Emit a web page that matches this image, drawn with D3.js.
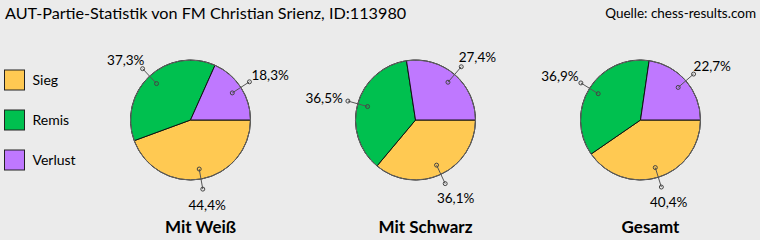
<!DOCTYPE html>
<head>
  <meta charset="utf-8">
  <script src="https://d3js.org/d3.v7.min.js"></script>
  <style>
    body { margin: 0; background: #ebebeb; }
    svg { display: block; }
    text { font-family: Lato, "Open Sans", sans-serif; fill: #000; }
  </style>
</head>
<body>
  <svg></svg>
  <script>
    var width = 760;
    var height = 240;

    // data
    var categories = ['Sieg', 'Remis', 'Verlust'];
    var colors = ['#ffc952', '#00c04f', '#bf78ff'];
    var panels = ['Mit Weiß', 'Mit Schwarz', 'Gesamt'];
    var mitWeiss = [44.4, 37.3, 18.3];
    var mitSchwarz = [36.1, 36.5, 27.4];
    var gesamt = [40.4, 36.9, 22.7];
    var series = [mitWeiss, mitSchwarz, gesamt];

    var svg = d3.select('svg')
      .attr('width', width)
      .attr('height', height);

    svg.append('rect')
      .attr('width', width).attr('height', height)
      .attr('fill', '#ebebeb');

    // title + source
    svg.append('text')
      .attr('x', 5).attr('y', 19)
      .style('font-size', '16.2px')
      .text('AUT-Partie-Statistik von FM Christian Srienz, ID:113980');
    svg.append('text')
      .attr('x', 756).attr('y', 18)
      .attr('text-anchor', 'end')
      .style('font-size', '13.5px')
      .text('Quelle: chess-results.com');

    // legend
    var legendY = d3.scalePoint().domain(categories).range([80, 160]);
    var legend = svg.selectAll('.legend')
      .data(categories)
      .enter().append('g')
      .attr('transform', function (d) { return 'translate(' + [4.5, legendY(d)] + ')'; });
    legend.append('rect')
      .attr('y', -10).attr('width', 20).attr('height', 20)
      .attr('fill', function (d, i) { return colors[i]; })
      .attr('stroke', '#222').attr('stroke-width', 1);
    legend.append('text')
      .attr('x', 28).attr('dy', '0.35em')
      .style('font-size', '14px')
      .text(function (d) { return d; });

    // pies
    var r = 60;
    var cy = 120;
    var xScale = d3.scalePoint().domain(panels).range([190.5, 640.5]);

    var pie = d3.pie().sort(null)
      .startAngle(Math.PI / 2)
      .endAngle(Math.PI / 2 + 2 * Math.PI);
    var arc = d3.arc().innerRadius(0).outerRadius(r);

    panels.forEach(function (p, k) {
      var g = svg.append('g')
        .attr('transform', 'translate(' + [xScale(p), cy] + ')');
      var arcs = pie(series[k]);

      g.selectAll('path')
        .data(arcs)
        .enter().append('path')
        .attr('d', arc)
        .attr('fill', function (d, i) { return colors[i]; })
        .attr('stroke', '#111')
        .attr('stroke-width', 1);

      g.append('circle')
        .attr('r', r)
        .attr('fill', 'none')
        .attr('stroke', '#666')
        .attr('stroke-width', 1);

      arcs.forEach(function (d) {
        var a = (d.startAngle + d.endAngle) / 2;
        var s = Math.sin(a), c = -Math.cos(a);
        var x1 = s * r * 0.83, y1 = c * r * 0.83;
        var x2 = s * r * 1.17, y2 = c * r * 1.17;
        g.append('line')
          .attr('x1', x1).attr('y1', y1).attr('x2', x2).attr('y2', y2)
          .attr('stroke', '#555').attr('stroke-width', 1);
        [[x1, y1], [x2, y2]].forEach(function (pt) {
          g.append('circle')
            .attr('cx', pt[0]).attr('cy', pt[1]).attr('r', 2)
            .attr('fill', 'none').attr('stroke', '#444').attr('stroke-width', 1);
        });
        var t = g.append('text')
          .attr('text-anchor', 'middle')
          .attr('dy', '0.35em')
          .style('font-size', '13.5px')
          .text(d3.format('.1f')(d.data).replace('.', ',') + '%');
        var w = t.node().getComputedTextLength();
        var dy = c > 0 ? c * 16 : c * 12;
        t.attr('x', x2 + s * (w / 2 + 6)).attr('y', y2 + dy);
      });

      svg.append('text')
        .attr('x', xScale(p) + 10).attr('y', 233)
        .attr('text-anchor', 'middle')
        .style('font-size', '17px')
        .style('font-weight', 'bold')
        .text(p);
    });
  </script>
</body>
